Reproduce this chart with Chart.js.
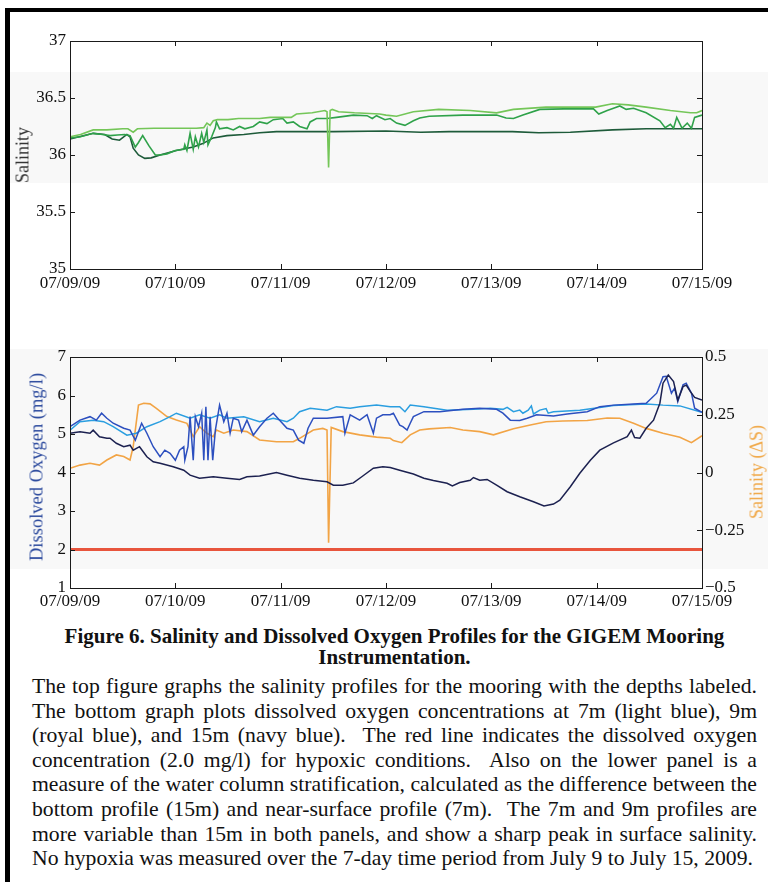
<!DOCTYPE html>
<html>
<head>
<meta charset="utf-8">
<script src="https://cdn.jsdelivr.net/npm/chart.js@4.4.0/dist/chart.umd.min.js"></script>
<style>
  body { margin: 0; background: #fff; width: 768px; height: 882px; position: relative; overflow: hidden;
         font-family: "Liberation Serif", "Times New Roman", serif; color: #111; }
  .frame { position: absolute; left: 5px; top: 8px; width: 763px; height: 874px;
           border-top: 4px solid #000; border-left: 5px solid #000; box-sizing: border-box; }
  .band { position: absolute; left: 10px; width: 758px; background: #f8f8f8; }
  canvas { position: absolute; left: 0; }
  .ytitle { position: absolute; white-space: nowrap; transform: translate(-50%, -50%) rotate(-90deg); }
  .caption { position: absolute; left: 32px; width: 725px; }
  .title { font-size: 21px; font-weight: bold; text-align: center; line-height: 21px; top: 626px; }
  .body { font-size: 21.7px; top: 674px; line-height: 24.6px; }
  .line { white-space: pre; }
</style>
</head>
<body>
<div class="band" style="top:72px;height:111px"></div>
<div class="band" style="top:349px;height:220px"></div>
<div class="frame"></div>

<canvas id="salChart" width="768" height="300" style="top:0;width:768px;height:300px"></canvas>
<canvas id="doChart" width="768" height="320" style="top:300px;width:768px;height:320px"></canvas>

<div class="ytitle" style="left:23px;top:155px;font-size:18px;color:#333">Salinity</div>
<div class="ytitle" style="left:37px;top:467px;font-size:18.5px;color:#2d4b9e">Dissolved Oxygen (mg/l)</div>
<div class="ytitle" style="left:757px;top:472px;font-size:18px;color:#f0a848">Salinity (ΔS)</div>

<div class="caption title">Figure 6. Salinity and Dissolved Oxygen Profiles for the GIGEM Mooring<br>Instrumentation.</div>
<div class="caption body">
<div class="line j"><span>The top figure graphs the salinity profiles for the mooring with the depths labeled.</span></div>
<div class="line j"><span>The bottom graph plots dissolved oxygen concentrations at 7m (light blue), 9m</span></div>
<div class="line j"><span>(royal blue), and 15m (navy blue).  The red line indicates the dissolved oxygen</span></div>
<div class="line j"><span>concentration (2.0 mg/l) for hypoxic conditions.  Also on the lower panel is a</span></div>
<div class="line j"><span>measure of the water column stratification, calculated as the difference between the</span></div>
<div class="line j"><span>bottom profile (15m) and near-surface profile (7m).  The 7m and 9m profiles are</span></div>
<div class="line j"><span>more variable than 15m in both panels, and show a sharp peak in surface salinity.</span></div>
<div class="line"><span>No hypoxia was measured over the 7-day time period from July 9 to July 15, 2009.</span></div>
</div>

<script>
// tick labels
const dayLabels = ['07/09/09', '07/10/09', '07/11/09', '07/12/09', '07/13/09', '07/14/09', '07/15/09'];
const salTicks = ['35', '35.5', '36', '36.5', '37'];
const doTicks = ['1', '2', '3', '4', '5', '6', '7'];
const dsTicks = ['\u22120.5', '\u22120.25', '0', '0.25', '0.5'];

// salinity, [day since 07/09/09, value]
const sal7m = [[0,36.16],[0.1,36.18],[0.22,36.22],[0.35,36.22],[0.5,36.23],[0.55,36.23],[0.6,36.20],[0.64,36.23],
  [0.8,36.235],[1.0,36.235],[1.2,36.235],[1.27,36.24],[1.3,36.28],[1.33,36.26],[1.36,36.30],[1.4,36.31],[1.5,36.31],
  [1.6,36.32],[1.8,36.32],[1.9,36.33],[2.1,36.33],[2.15,36.36],[2.3,36.37],[2.42,36.39],[2.44,36.38],[2.455,35.89],
  [2.47,36.39],[2.49,36.40],[2.55,36.38],[2.7,36.37],[2.94,36.36],[3.0,36.35],[3.1,36.34],[3.26,36.38],[3.5,36.40],
  [3.8,36.39],[4.05,36.37],[4.21,36.40],[4.52,36.42],[4.8,36.42],[4.99,36.42],[5.15,36.45],[5.3,36.44],[5.47,36.42],
  [5.7,36.39],[5.89,36.37],[5.95,36.37],[6.0,36.39]];
const sal9m = [[0,36.15],[0.1,36.16],[0.22,36.19],[0.31,36.18],[0.38,36.17],[0.45,36.175],[0.52,36.18],[0.57,36.17],
  [0.62,36.07],[0.65,36.11],[0.69,36.17],[0.75,36.08],[0.81,36.0],[0.855,36.0],[0.92,36.01],[1.0,36.04],[1.08,36.05],
  [1.09,36.09],[1.11,36.04],[1.14,36.19],[1.17,36.05],[1.19,36.16],[1.22,36.07],[1.25,36.19],[1.27,36.11],[1.30,36.22],
  [1.31,36.09],[1.345,36.16],[1.38,36.24],[1.39,36.29],[1.42,36.23],[1.49,36.24],[1.55,36.22],[1.61,36.25],[1.66,36.23],
  [1.74,36.25],[1.80,36.29],[1.87,36.275],[1.93,36.31],[2.02,36.32],[2.06,36.28],[2.12,36.29],[2.18,36.25],[2.25,36.23],
  [2.28,36.29],[2.34,36.32],[2.44,36.32],[2.53,36.33],[2.69,36.35],[2.82,36.345],[2.87,36.32],[2.91,36.345],[2.99,36.31],
  [3.04,36.32],[3.10,36.28],[3.18,36.26],[3.26,36.30],[3.32,36.325],[3.41,36.34],[3.73,36.35],[4.05,36.35],[4.14,36.325],
  [4.21,36.32],[4.30,36.35],[4.46,36.40],[4.69,36.405],[4.97,36.405],[5.02,36.36],[5.10,36.39],[5.16,36.41],[5.22,36.43],
  [5.28,36.40],[5.35,36.41],[5.47,36.37],[5.60,36.30],[5.65,36.24],[5.70,36.27],[5.73,36.235],[5.76,36.33],[5.81,36.235],
  [5.86,36.28],[5.90,36.235],[5.93,36.33],[6.0,36.35]];
const sal15m = [[0,36.14],[0.22,36.19],[0.33,36.18],[0.4,36.14],[0.47,36.13],[0.54,36.18],[0.57,36.16],[0.6,36.06],
  [0.65,36.0],[0.71,35.97],[0.77,35.975],[0.855,36.0],[1.01,36.04],[1.17,36.07],[1.26,36.10],[1.36,36.15],[1.49,36.17],
  [1.65,36.18],[1.80,36.195],[1.96,36.205],[2.5,36.205],[3.0,36.21],[3.33,36.20],[3.6,36.205],[4.2,36.205],[4.45,36.195],
  [4.75,36.20],[5.15,36.22],[5.47,36.23],[6.0,36.23]];

// dissolved oxygen (mg/l)
const do7m = [[0,5.10],[0.095,5.32],[0.22,5.36],[0.32,5.32],[0.41,5.19],[0.54,4.97],[0.63,5.02],[0.73,5.19],[0.855,5.32],
  [0.95,5.45],[1.01,5.54],[1.14,5.41],[1.23,5.50],[1.33,5.41],[1.42,5.50],[1.49,5.41],[1.65,5.45],[1.80,5.32],[1.93,5.41],
  [2.06,5.32],[2.12,5.41],[2.18,5.58],[2.28,5.67],[2.44,5.62],[2.53,5.71],[2.66,5.67],[2.75,5.71],[2.91,5.75],[3.04,5.71],
  [3.13,5.71],[3.18,5.58],[3.23,5.75],[3.36,5.71],[3.58,5.62],[3.83,5.64],[3.99,5.67],[4.11,5.64],[4.15,5.69],[4.21,5.58],
  [4.27,5.62],[4.30,5.54],[4.35,5.62],[4.38,5.73],[4.40,5.52],[4.46,5.62],[4.52,5.66],[4.54,5.54],[4.59,5.58],[4.84,5.62],
  [5.03,5.69],[5.16,5.74],[5.47,5.78],[5.63,5.75],[5.79,5.73],[5.98,5.58],[6.0,5.57]];
const do9m = [[0,5.19],[0.095,5.36],[0.19,5.45],[0.25,5.36],[0.30,5.54],[0.35,5.41],[0.41,5.28],[0.51,5.15],[0.57,5.10],
  [0.62,4.84],[0.68,5.28],[0.73,5.02],[0.79,4.67],[0.855,4.41],[0.90,4.58],[0.95,4.50],[1.0,4.32],[1.04,4.58],[1.08,4.67],
  [1.09,4.32],[1.12,4.67],[1.14,5.45],[1.17,4.32],[1.19,5.45],[1.22,5.19],[1.25,5.54],[1.27,4.32],[1.29,5.71],[1.31,4.32],
  [1.33,5.45],[1.355,4.32],[1.38,5.10],[1.42,5.75],[1.46,5.32],[1.49,5.54],[1.52,5.02],[1.55,5.41],[1.60,5.36],[1.63,5.06],
  [1.68,5.36],[1.74,4.97],[1.80,5.19],[1.87,5.41],[1.93,5.54],[1.99,5.36],[2.06,5.15],[2.12,5.10],[2.17,4.84],[2.22,4.76],
  [2.26,5.15],[2.31,5.41],[2.44,5.41],[2.59,5.45],[2.61,5.02],[2.66,5.50],[2.75,5.36],[2.82,5.50],[2.88,5.02],[2.91,5.41],
  [2.97,5.50],[3.04,5.50],[3.07,5.54],[3.13,5.23],[3.16,5.19],[3.20,5.10],[3.23,5.28],[3.26,5.45],[3.36,5.58],[3.51,5.58],
  [3.73,5.64],[3.89,5.67],[4.05,5.64],[4.11,5.54],[4.18,5.36],[4.27,5.35],[4.34,5.41],[4.43,5.50],[4.59,5.47],[4.72,5.52],
  [4.91,5.58],[5.03,5.71],[5.16,5.75],[5.35,5.78],[5.47,5.80],[5.57,6.06],[5.63,6.49],[5.66,6.50],[5.71,6.06],[5.74,6.19],
  [5.77,5.84],[5.82,6.28],[5.85,6.32],[5.90,6.06],[5.93,5.67],[6.0,5.56]];
const do15m = [[0,5.02],[0.095,5.06],[0.19,5.02],[0.22,5.10],[0.28,4.93],[0.35,4.89],[0.38,4.89],[0.44,4.76],[0.51,4.67],
  [0.57,4.71],[0.60,4.58],[0.66,4.67],[0.73,4.41],[0.79,4.28],[0.855,4.24],[0.98,4.15],[1.08,4.06],[1.14,3.93],[1.23,3.85],
  [1.36,3.89],[1.49,3.85],[1.61,3.82],[1.68,3.89],[1.80,3.91],[1.96,4.0],[2.06,3.93],[2.18,3.85],[2.31,3.80],[2.44,3.76],
  [2.50,3.67],[2.59,3.67],[2.69,3.73],[2.77,3.89],[2.88,4.11],[2.97,4.15],[3.04,4.13],[3.13,4.06],[3.26,3.96],[3.36,3.85],
  [3.45,3.79],[3.58,3.72],[3.63,3.65],[3.70,3.74],[3.80,3.80],[3.83,3.87],[3.89,3.80],[3.96,3.82],[4.05,3.67],[4.15,3.50],
  [4.27,3.37],[4.40,3.24],[4.50,3.13],[4.59,3.18],[4.65,3.28],[4.75,3.63],[4.84,3.98],[4.94,4.32],[5.03,4.58],[5.16,4.77],
  [5.29,4.93],[5.33,5.10],[5.36,4.91],[5.41,4.89],[5.47,5.15],[5.54,5.36],[5.60,5.80],[5.63,6.32],[5.68,6.53],[5.73,6.36],
  [5.77,5.88],[5.82,6.23],[5.85,6.27],[5.89,6.10],[5.93,5.95],[6.0,5.88]];
const hypoxia = [[0,2.0],[6,2.0]];

// stratification, salinity difference (right axis)
const deltaS = [[0,0.018],[0.095,0.032],[0.19,0.04],[0.28,0.032],[0.35,0.054],[0.44,0.076],[0.51,0.069],[0.57,0.054],
  [0.60,0.112],[0.65,0.292],[0.70,0.30],[0.76,0.297],[0.82,0.278],[0.92,0.242],[1.01,0.227],[1.11,0.213],[1.17,0.155],
  [1.23,0.198],[1.30,0.17],[1.36,0.155],[1.39,0.184],[1.46,0.17],[1.55,0.184],[1.68,0.177],[1.80,0.141],[1.96,0.133],
  [2.12,0.133],[2.18,0.148],[2.31,0.184],[2.40,0.191],[2.44,0.184],[2.455,-0.304],[2.48,0.195],[2.59,0.177],[2.75,0.163],
  [2.91,0.153],[3.04,0.148],[3.07,0.138],[3.15,0.129],[3.23,0.163],[3.32,0.184],[3.41,0.189],[3.61,0.195],[3.73,0.184],
  [3.89,0.177],[4.02,0.163],[4.21,0.189],[4.37,0.206],[4.52,0.22],[4.68,0.223],[4.91,0.225],[5.10,0.236],[5.22,0.235],
  [5.35,0.213],[5.47,0.191],[5.63,0.17],[5.79,0.153],[5.90,0.129],[6.0,0.159]];

Chart.defaults.font.family = '"Liberation Serif", "Times New Roman", serif';
Chart.defaults.color = '#111';

const pts = arr => arr.map(([x, y]) => ({ x: x, y: y }));

// MATLAB style box with inward tick marks
const boxPlugin = {
  id: 'box',
  afterDraw(chart, args, opts) {
    const { ctx, chartArea: a, scales } = chart;
    ctx.save();
    ctx.strokeStyle = '#1a1a1a';
    ctx.lineWidth = 1;
    ctx.strokeRect(a.left + 0.5, a.top + 0.5, a.right - a.left, a.bottom - a.top);
    ctx.beginPath();
    const len = 5;
    scales.x.ticks.forEach(t => {
      const x = Math.round(scales.x.getPixelForValue(t.value)) + 0.5;
      ctx.moveTo(x, a.bottom); ctx.lineTo(x, a.bottom - len);
      ctx.moveTo(x, a.top); ctx.lineTo(x, a.top + len);
    });
    const ls = scales[opts.left], rs = scales[opts.right];
    ls.ticks.forEach(t => {
      const y = Math.round(ls.getPixelForValue(t.value)) + 0.5;
      ctx.moveTo(a.left, y); ctx.lineTo(a.left + len, y);
    });
    rs.ticks.forEach(t => {
      const y = Math.round(rs.getPixelForValue(t.value)) + 0.5;
      ctx.moveTo(a.right, y); ctx.lineTo(a.right - len, y);
    });
    ctx.stroke();
    ctx.restore();
  }
};

const tickFont = { size: 17 };
const xScale = pad => ({
  type: 'linear', min: 0, max: 6,
  grid: { display: false, drawTicks: false }, border: { display: false },
  ticks: { stepSize: 1, autoSkip: false, maxRotation: 0, padding: pad, font: tickFont, color: '#111',
           callback: (v, i) => dayLabels[i] },
  afterFit: s => { s.height = pad === 4 ? 31 : 32; }
});

const line = (data, color, width, axis) => ({
  data: pts(data), borderColor: color, borderWidth: width, pointRadius: 0, tension: 0,
  fill: false, yAxisID: axis || 'y'
});

new Chart(document.getElementById('salChart'), {
  type: 'line',
  data: {
    datasets: [
      line(sal7m, '#74c658', 1.6),
      line(sal9m, '#2fa24a', 1.6),
      line(sal15m, '#1e5b3a', 1.6)
    ]
  },
  options: {
    responsive: false, animation: false, devicePixelRatio: 1,
    layout: { padding: { top: 41, right: 66, left: 0, bottom: 0 } },
    plugins: { legend: { display: false }, tooltip: { enabled: false }, box: { left: 'y', right: 'y' } },
    scales: {
      x: xScale(4),
      y: {
        min: 35, max: 37,
        grid: { display: false, drawTicks: false }, border: { display: false },
        ticks: { stepSize: 0.5, padding: 4, font: tickFont, color: '#111', callback: (v, i) => salTicks[i] },
        afterFit: s => { s.width = 70; }
      }
    }
  },
  plugins: [boxPlugin]
});

new Chart(document.getElementById('doChart'), {
  type: 'line',
  data: {
    datasets: [
      line(do15m, '#1c2150', 1.5),
      line(do9m, '#2c4fbf', 1.5),
      line(do7m, '#2a9ee0', 1.5),
      line(deltaS, '#f2a445', 1.6, 'y2'),
      line(hypoxia, '#e8553d', 3)
    ]
  },
  options: {
    responsive: false, animation: false, devicePixelRatio: 1,
    layout: { padding: { top: 57, right: 0, left: 0, bottom: 0 } },
    plugins: { legend: { display: false }, tooltip: { enabled: false }, box: { left: 'y', right: 'y2' } },
    scales: {
      x: xScale(3),
      y: {
        position: 'left', min: 1, max: 7,
        grid: { display: false, drawTicks: false }, border: { display: false },
        ticks: { stepSize: 1, padding: 4, font: tickFont, color: '#111', callback: (v, i) => doTicks[i] },
        afterFit: s => { s.width = 70; }
      },
      y2: {
        position: 'right', min: -0.5, max: 0.5,
        grid: { display: false, drawTicks: false }, border: { display: false },
        ticks: { stepSize: 0.25, padding: 3, font: tickFont, color: '#111', callback: (v, i) => dsTicks[i] },
        afterFit: s => { s.width = 66; }
      }
    }
  },
  plugins: [boxPlugin]
});

// justify caption lines to the text block width
document.querySelectorAll('.line.j span').forEach(span => {
  const w = span.getBoundingClientRect().width;
  const n = (span.textContent.match(/ /g) || []).length;
  if (n) span.style.wordSpacing = ((725 - w) / n) + 'px';
});
</script>
</body>
</html>
